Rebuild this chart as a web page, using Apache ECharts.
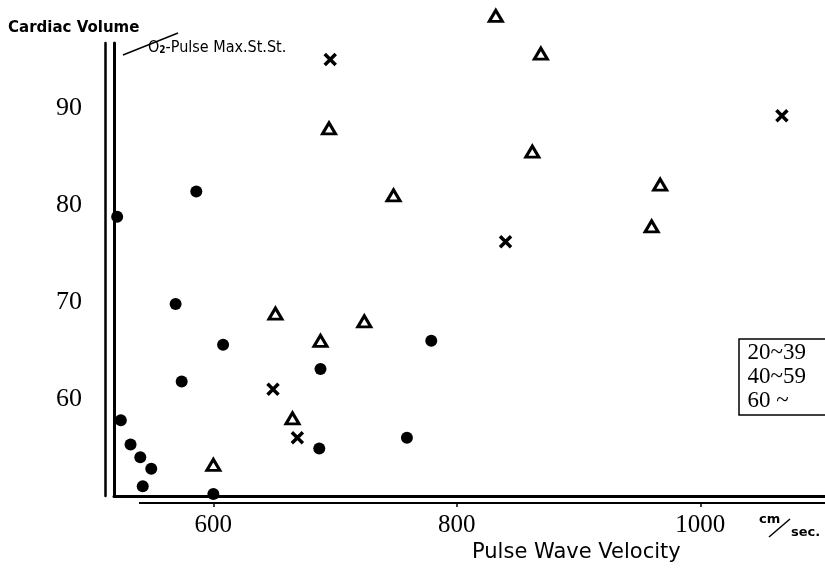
<!DOCTYPE html>
<html>
<head>
<meta charset="utf-8">
<style>
  html, body { margin: 0; padding: 0; background: #fff; }
  #chart { width: 825px; height: 572px; }
</style>
<script src="https://cdn.jsdelivr.net/npm/echarts@6/dist/echarts.min.js"></script>
</head>
<body>
<div id="chart"></div>
<script>
// age groups
var groupNames = ['20~39', '40~59', '60 ~'];

// [pulse wave velocity cm/sec, cardiac volume]
var young = [
    [521, 78.8], [586, 81.4], [569, 69.8], [574, 61.8], [608, 65.6],
    [524, 57.8], [532, 55.3], [540, 54.0], [549, 52.8], [542, 51.0],
    [600, 50.2], [688, 63.1], [687, 54.9], [759, 56.0], [779, 66.0]
];
var middle = [
    [832, 99.5], [869, 95.6], [695, 87.9], [862, 85.5], [748, 81.0],
    [967, 82.1], [960, 77.8], [651, 68.8], [724, 68.0], [688, 66.0],
    [665, 58.0], [600, 53.2]
];
var old = [
    [696, 95.0], [1067, 89.2], [840, 76.2], [649, 61.0], [669, 56.0]
];

var xTicks = [600, 800, 1000];
var yTicks = [60, 70, 80, 90];

var crossPath = 'path://M0,0L10,10M10,0L0,10';

var chart = echarts.init(document.getElementById('chart'));

var option = {
    backgroundColor: '#fff',
    animation: false,
    grid: {
        left: 114,
        right: 0,
        top: 43,
        bottom: 76
    },
    legend: {
        data: groupNames,
        orient: 'vertical',
        left: 739,
        top: 339,
        itemWidth: 0,
        itemHeight: 0,
        itemGap: 1,
        padding: [2, 60, 3, 5],
        borderColor: '#000',
        borderWidth: 1.5,
        borderRadius: 0,
        selectedMode: false,
        textStyle: {
            fontFamily: 'Liberation Serif',
            fontSize: 23,
            color: '#000',
            padding: [0, 0, 0, -4]
        }
    },
    xAxis: [{
        type: 'value',
        min: 518.4,
        max: 1102.4,
        splitLine: { show: false },
        axisTick: { show: false },
        axisLabel: { show: false },
        axisLine: { show: true, onZero: false, lineStyle: { color: '#000', width: 3 } }
    }, {
        type: 'value',
        position: 'bottom',
        offset: 7,
        min: 518.4,
        max: 1102.4,
        splitLine: { show: false },
        axisLine: { show: false },
        axisTick: {
            show: true,
            length: 4,
            customValues: xTicks,
            lineStyle: { color: '#000', width: 1.5 }
        },
        axisLabel: {
            show: true,
            customValues: xTicks,
            margin: 10,
            formatter: function (v) { return String(v); },
            fontFamily: 'Liberation Serif',
            fontSize: 25,
            color: '#000'
        }
    }],
    yAxis: [{
        type: 'value',
        min: 50,
        max: 96.7,
        splitLine: { show: false },
        axisTick: { show: false },
        axisLine: { show: true, onZero: false, lineStyle: { color: '#000', width: 3 } },
        axisLabel: {
            customValues: yTicks,
            margin: 32,
            fontFamily: 'Liberation Serif',
            fontSize: 26,
            color: '#000'
        }
    }, {
        type: 'value',
        position: 'left',
        offset: 9,
        min: 50,
        max: 96.7,
        splitLine: { show: false },
        axisTick: { show: false },
        axisLabel: { show: false },
        axisLine: { show: true, onZero: false, lineStyle: { color: '#000', width: 2.5 } }
    }],
    graphic: [
        // lower x axis line
        { type: 'line', shape: { x1: 139, y1: 503, x2: 825, y2: 503 }, style: { stroke: '#000', lineWidth: 2 } },
        { type: 'text', left: 8, top: 21, style: { text: 'Cardiac Volume', font: 'bold 15px "DejaVu Sans"', fill: '#000' } },
        { type: 'line', shape: { x1: 123, y1: 55, x2: 178, y2: 33 }, style: { stroke: '#000', lineWidth: 1.5 } },
        { type: 'text', left: 148, top: 40, style: {
            text: '{a|O}{s|2}{a|-Pulse Max.St.St.}',
            rich: {
                a: { font: '16px "DejaVu Sans Condensed"', fill: '#000' },
                s: { font: 'bold 10px "DejaVu Sans Condensed"', fill: '#000', padding: [4, 0, 0, 0] }
            }
        } },
        { type: 'text', left: 472, top: 542, style: { text: 'Pulse Wave Velocity', font: '21px "DejaVu Sans"', fill: '#000' } },
        { type: 'text', left: 759, top: 513, style: { text: 'cm', font: 'bold 13px "DejaVu Sans"', fill: '#000' } },
        { type: 'line', shape: { x1: 769, y1: 537, x2: 790, y2: 519 }, style: { stroke: '#000', lineWidth: 1.5 } },
        { type: 'text', left: 791, top: 526, style: { text: 'sec.', font: 'bold 13px "DejaVu Sans"', fill: '#000' } }
    ],
    series: [{
        name: groupNames[0],
        type: 'scatter',
        clip: false,
        symbol: 'circle',
        symbolSize: 12,
        itemStyle: { color: '#000', opacity: 1 },
        data: young
    }, {
        name: groupNames[1],
        type: 'scatter',
        clip: false,
        symbol: 'triangle',
        symbolSize: [13, 11],
        itemStyle: { color: '#fff', borderColor: '#000', borderWidth: 3, opacity: 1 },
        data: middle
    }, {
        name: groupNames[2],
        type: 'scatter',
        clip: false,
        symbol: crossPath,
        symbolSize: 11,
        itemStyle: { color: 'none', borderColor: '#000', borderWidth: 3.5, opacity: 1 },
        data: old
    }]
};

chart.setOption(option);
</script>
</body>
</html>
